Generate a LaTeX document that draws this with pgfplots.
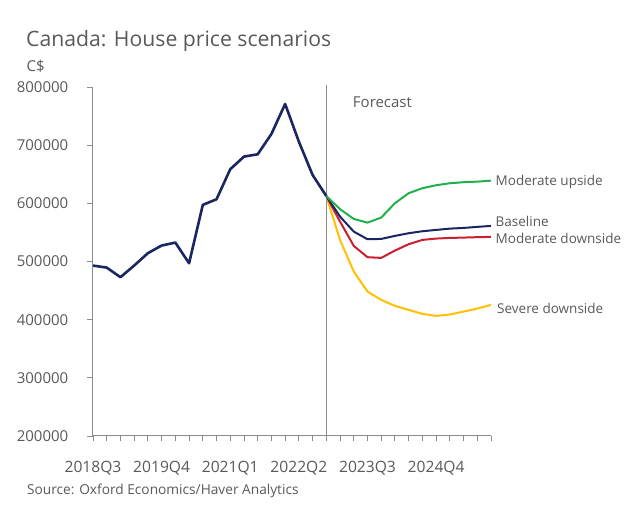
\documentclass[border=0pt]{standalone}
\usepackage{pgfplots}
\pgfplotsset{compat=1.18}
\usepackage{fontspec}
\setmainfont{Open Sans}
\definecolor{txt}{HTML}{595959}
\definecolor{axg}{HTML}{8C8C8C}
\definecolor{navy}{HTML}{1A2660}
\definecolor{cgreen}{HTML}{21B04B}
\definecolor{cred}{HTML}{CC1F2D}
\definecolor{cyellow}{HTML}{FFC000}
\newcommand{\fs}[1]{\fontsize{#1bp}{#1bp}\selectfont}
\begin{document}
\begin{tikzpicture}[x=1bp,y=1bp]
\begin{axis}[name=ax, anchor=south west, width=398bp, height=349bp, scale only axis,
  xmin=0, xmax=29, ymin=200000, ymax=800000, clip=false,
  scaled y ticks=false, scaled x ticks=false,
  axis lines*=left, axis line style={draw=axg, line width=1bp},
  xtick={0,5,10,15,20,25}, xticklabels={2018Q3,2019Q4,2021Q1,2022Q2,2023Q3,2024Q4},
  minor xtick={0,...,29},
  ytick={200000,300000,400000,500000,600000,700000,800000},
  yticklabels={200000,300000,400000,500000,600000,700000,800000},
  tick align=outside, major tick length=5.5bp, minor tick length=5.5bp,
  tick style={draw=axg, line width=0.9bp},
  xticklabel style={anchor=base, yshift=-31bp, font=\fs{15.6}, text=txt, inner sep=0},
  yticklabel style={anchor=east, xshift=-19bp, font=\fs{15}, text=txt, inner sep=0},
  every axis plot/.append style={line join=round, no markers},
]
\addplot[axg, line width=1.3bp] coordinates {(17,200000) (17,803000)};
\addplot[navy, line width=2.6bp] coordinates {(0,493000) (1,489500) (2,473000) (3,493000) (4,514300) (5,527400) (6,532500) (7,497000) (8,597300) (9,607000) (10,658600) (11,680300) (12,684300) (13,719200) (14,770800) (15,706000) (16,648800) (17,612500)};
\addplot[cyellow, line width=2bp] coordinates {(17,612500) (18,537100) (19,482700) (20,448300) (21,434000) (22,423700) (23,416800) (24,410000) (25,406500) (26,408800) (27,413900) (28,419000) (29,425400)};
\addplot[cred, line width=2bp] coordinates {(17,612500) (18,568600) (19,526800) (20,507400) (21,506200) (22,518800) (23,529700) (24,537100) (25,539400) (26,540500) (27,541100) (28,541800) (29,542300)};
\addplot[navy, line width=2bp] coordinates {(17,612500) (18,577200) (19,551400) (20,538300) (21,538800) (22,544000) (23,548600) (24,552000) (25,554300) (26,556500) (27,557700) (28,559500) (29,561200)};
\addplot[cgreen, line width=2bp] coordinates {(17,612500) (18,590000) (19,573200) (20,566800) (21,575500) (22,600200) (23,617400) (24,626000) (25,631100) (26,634500) (27,636300) (28,637300) (29,639000)};
\node[anchor=base west, inner sep=0, text=txt, font=\fs{15}, xshift=-1bp] at (axis cs:19,765100) {Forecast};
\node[anchor=base west, inner sep=0, text=txt, font=\fs{13.5}, xshift=4.5bp] at (axis cs:29,630300) {Moderate upside};
\node[anchor=base west, inner sep=0, text=txt, font=\fs{13.5}, xshift=4.5bp] at (axis cs:29,559850) {Baseline};
\node[anchor=base west, inner sep=0, text=txt, font=\fs{13.5}, xshift=4.5bp] at (axis cs:29,530100) {Moderate downside};
\node[anchor=base west, inner sep=0, text=txt, font=\fs{13.5}, xshift=6bp] at (axis cs:29,410990) {Severe downside};
\end{axis}
\path (ax.south west) ++(-93,-87) coordinate (bl);
\node[anchor=base west, inner sep=0, text=txt, font=\fs{21.2}] at ([shift={(26,476.3)}]bl) {Canada: House price scenarios};
\node[anchor=base west, inner sep=0, text=txt, font=\fs{15}] at ([shift={(26.5,451)}]bl) {C\$};
\node[anchor=base west, inner sep=0, text=txt, font=\fs{13.7}] at ([shift={(27,28)}]bl) {Source: Oxford Economics/Haver Analytics};
\pgfresetboundingbox
\path[use as bounding box] (bl) rectangle ++(640,523);
\end{tikzpicture}
\end{document}
